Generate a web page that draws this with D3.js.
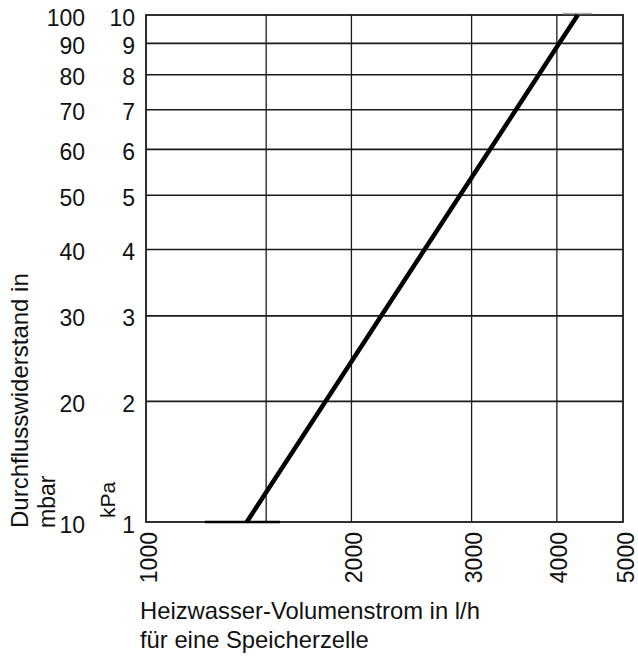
<!DOCTYPE html>
<html>
<head>
<meta charset="utf-8">
<script src="https://cdn.jsdelivr.net/npm/d3@7"></script>
<style>
  html, body { margin: 0; padding: 0; background: #fff; }
  svg { display: block; }
  text { font-family: "Liberation Sans", Arial, Helvetica, sans-serif; fill: #111; }
</style>
</head>
<body>
<div id="chart"></div>
<script>
// ---- data ----
const flowValues = [1405, 1832, 2212, 2560, 2885, 3192, 3484, 3763, 4032, 4292];   // l/h
const pressureValues = [10, 20, 30, 40, 50, 60, 70, 80, 90, 100];                   // mbar
const mbarTicks = [10, 20, 30, 40, 50, 60, 70, 80, 90, 100];
const kpaTickLabels = ["1", "2", "3", "4", "5", "6", "7", "8", "9", "10"];
const flowTicks = [1000, 2000, 3000, 4000, 5000];
const flowGridLines = [1500, 2000, 3000, 4000];
const bottomMark = [1220, 1572];   // short heavy stroke on the bottom border
const topMark = [4085, 4510];      // short grey stroke above the top border

// ---- layout ----
const W = 638, H = 657;
const plotL = 146, plotR = 623, plotT = 15, plotB = 522;

const svg = d3.select("#chart").append("svg").attr("width", W).attr("height", H);

const x = d3.scaleLog().domain([1000, 5000]).range([plotL, plotR]);
const y = d3.scaleSymlog().constant(10).domain([10, 100]).range([plotB, plotT]);

const ink = "#1a1a1a";

// horizontal grid lines
svg.append("g").selectAll("line").data(mbarTicks.slice(1, -1)).join("line")
  .attr("x1", plotL).attr("x2", plotR)
  .attr("y1", d => y(d)).attr("y2", d => y(d))
  .attr("stroke", ink).attr("stroke-width", 1.6);

// vertical grid lines
svg.append("g").selectAll("line").data(flowGridLines).join("line")
  .attr("x1", d => x(d)).attr("x2", d => x(d))
  .attr("y1", plotT).attr("y2", plotB)
  .attr("stroke", ink).attr("stroke-width", 1.3);

// frame
svg.append("rect").attr("x", plotL).attr("y", plotT)
  .attr("width", plotR - plotL).attr("height", plotB - plotT)
  .attr("fill", "none").attr("stroke", ink).attr("stroke-width", 1.8);

// small marks at the clipped ends
svg.append("line").attr("x1", x(bottomMark[0])).attr("x2", x(bottomMark[1]))
  .attr("y1", y(10)).attr("y2", y(10)).attr("stroke", "#000").attr("stroke-width", 2.6);
svg.append("line").attr("x1", x(topMark[0])).attr("x2", x(topMark[1]))
  .attr("y1", y(100) - 1.5).attr("y2", y(100) - 1.5).attr("stroke", "#b0b0b0").attr("stroke-width", 1.5);

// curve
const pts = flowValues.map((f, i) => [f, pressureValues[i]]);
svg.append("path").datum(pts)
  .attr("d", d3.line().x(d => x(d[0])).y(d => y(d[1])))
  .attr("fill", "none").attr("stroke", "#000").attr("stroke-width", 4.5);

// y tick labels (mbar, kPa)
const yl = svg.append("g").attr("font-size", 23).attr("text-anchor", "end");
yl.selectAll("text.mbar").data(mbarTicks).join("text").attr("class", "mbar")
  .attr("x", 85).attr("y", d => y(d) + 10.5).text(d => d);
yl.selectAll("text.kpa").data(mbarTicks).join("text").attr("class", "kpa")
  .attr("x", 135).attr("y", d => y(d) + 10.5).text((d, i) => kpaTickLabels[i]);

// x tick labels (rotated)
svg.append("g").attr("font-size", 23).attr("text-anchor", "end")
  .selectAll("text").data(flowTicks).join("text")
  .attr("transform", d => `translate(${x(d) + 10.5},${plotB + 10}) rotate(-90)`)
  .text(d => d);

// axis titles
svg.append("text").attr("font-size", 24)
  .attr("transform", `translate(28,528) rotate(-90)`)
  .text("Durchflusswiderstand in");
svg.append("text").attr("font-size", 23)
  .attr("transform", `translate(55,528) rotate(-90)`)
  .text("mbar");
svg.append("text").attr("font-size", 21)
  .attr("transform", `translate(115,518) rotate(-90)`)
  .text("kPa");

svg.append("text").attr("font-size", 23.8).attr("x", 140).attr("y", 619)
  .text("Heizwasser-Volumenstrom in l/h");
svg.append("text").attr("font-size", 23.8).attr("x", 140).attr("y", 648)
  .text("für eine Speicherzelle");
</script>
</body>
</html>
